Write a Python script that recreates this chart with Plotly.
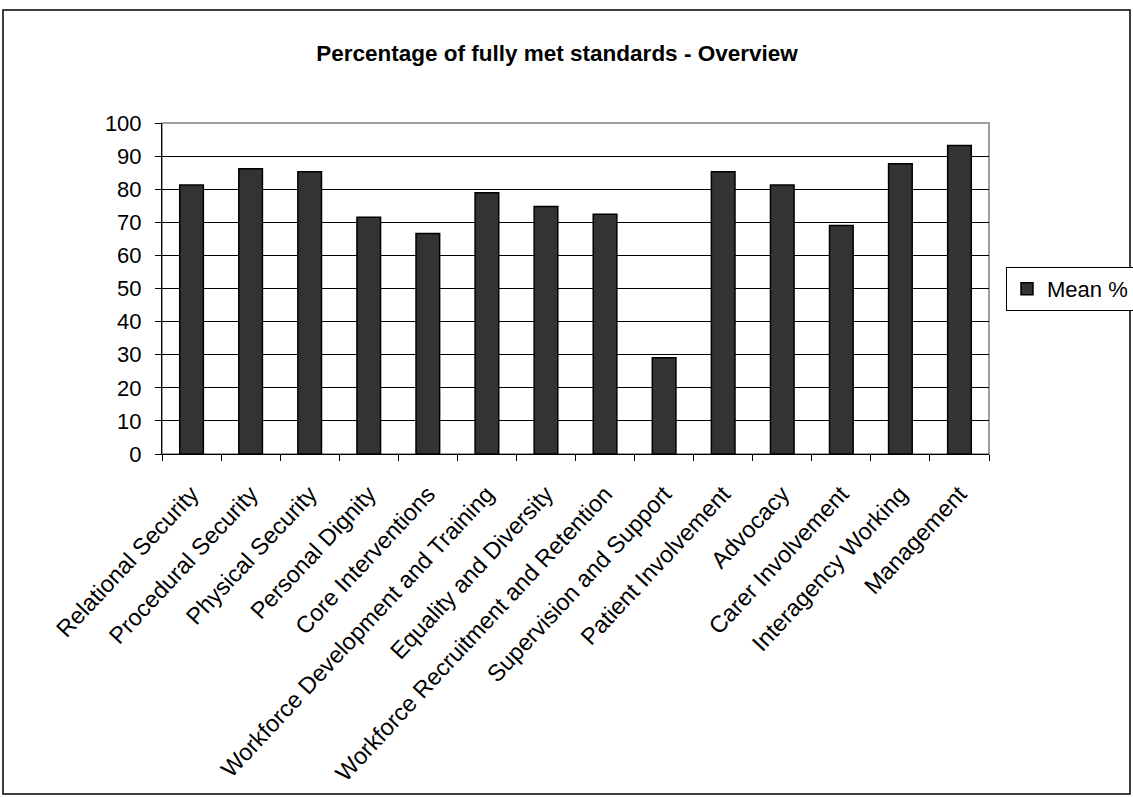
import plotly.graph_objects as go

categories = [
    "Relational Security", "Procedural Security", "Physical Security", "Personal Dignity",
    "Core Interventions", "Workforce Development and Training", "Equality and Diversity",
    "Workforce Recruitment and Retention", "Supervision and Support", "Patient Involvement",
    "Advocacy", "Carer Involvement", "Interagency Working", "Management",
]
mean_pct = [81.3, 86.2, 85.3, 71.5, 66.6, 78.9, 74.8, 72.4, 29.1, 85.3, 81.3, 69.0, 87.7, 93.2]
y_ticks = list(range(0, 101, 10))

W, H = 1133, 797
L, R, T, B = 162, 144, 123, 343
pw, ph = W - L - R, H - T - B

def px_x(x):
    return (x - L) / pw

def px_y(y):
    return (H - B - y) / ph

fig = go.Figure()
fig.add_trace(go.Bar(
    x=categories, y=mean_pct, name="Mean %",
    marker=dict(color="#333333", line=dict(color="black", width=1.5)),
    width=0.4,
))

font = "Liberation Sans, Arial, sans-serif"
fig.update_layout(
    width=W, height=H,
    margin=dict(l=L, r=R, t=T, b=B, autoexpand=False),
    paper_bgcolor="white", plot_bgcolor="white",
    font=dict(family=font, color="black"),
    title=dict(text="<b>Percentage of fully met standards - Overview</b>",
               x=px_x(557), xref="paper", xanchor="center",
               y=1 - 53 / H, yanchor="middle", font=dict(size=22.5, family=font)),
    showlegend=True,
    legend=dict(x=px_x(1006), xanchor="left", y=px_y(289), yanchor="middle",
                bordercolor="black", borderwidth=1, bgcolor="white",
                font=dict(size=22, family=font), itemwidth=30,
                tracegroupgap=0),
    xaxis=dict(type="category", tickangle=-47, tickfont=dict(size=23.5, family=font),
               showline=True, linecolor="black", linewidth=1,
               ticks="outside", tickson="boundaries", ticklen=6, tickcolor="black",
               ticklabelstandoff=16,
               showgrid=False, range=[-0.5, len(categories) - 0.5]),
    yaxis=dict(range=[0, 100], tickvals=y_ticks, tickfont=dict(size=22, family=font),
               showline=True, linecolor="black", linewidth=1,
               ticks="outside", ticklen=6, tickcolor="black", ticklabelstandoff=9,
               showgrid=True, gridcolor="black", gridwidth=1, zeroline=False),
    shapes=[
        dict(type="rect", xref="paper", yref="paper", x0=0, x1=1, y0=0, y1=1,
             line=dict(color="#808080", width=1.5), layer="below"),
        dict(type="rect", xref="paper", yref="paper",
             x0=px_x(3), x1=px_x(1130), y0=px_y(794), y1=px_y(10),
             line=dict(color="black", width=1.5), layer="below"),
    ],
)

fig.write_html("out.html")
